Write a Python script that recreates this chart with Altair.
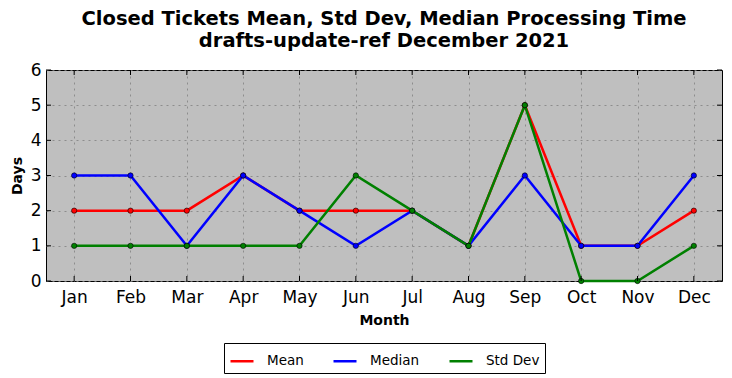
import altair as alt
import pandas as pd

months = ["Jan", "Feb", "Mar", "Apr", "May", "Jun", "Jul", "Aug", "Sep", "Oct", "Nov", "Dec"]
mean_vals = [2, 2, 2, 3, 2, 2, 2, 1, 5, 1, 1, 2]
median_vals = [3, 3, 1, 3, 2, 1, 2, 1, 3, 1, 1, 3]
std_vals = [1, 1, 1, 1, 1, 3, 2, 1, 5, 0, 0, 1]
series_names = ["Mean", "Median", "Std Dev"]
series_colors = ["#ff0000", "#0000ff", "#008000"]
y_ticks = [0, 1, 2, 3, 4, 5, 6]

rows = []
for name, vals in zip(series_names, [mean_vals, median_vals, std_vals]):
    for m, v in zip(months, vals):
        rows.append({"Month": m, "Days": v, "Series": name})
df = pd.DataFrame(rows)
months_df = pd.DataFrame({"Month": months})
yt_df = pd.DataFrame({"Days": y_ticks})

FONT = "DejaVu Sans"
W, H = 676, 211

xaxis = alt.Axis(title="Month", labelAngle=0, tickSize=0, labelPadding=8,
                 titleFontWeight="bold", titleFontSize=14, titlePadding=8,
                 labelFontSize=17, grid=True)
yaxis = alt.Axis(title="Days", values=y_ticks, tickCount=7, tickSize=0, labelPadding=5,
                 titleFontWeight="bold", titleFontSize=14, titlePadding=6,
                 labelFontSize=17, grid=True)
xenc = alt.X("Month:N", sort=months, scale=alt.Scale(type="point", padding=0.5), axis=xaxis)
yenc = alt.Y("Days:Q", scale=alt.Scale(domain=[0, 6], nice=False), axis=yaxis)
color = alt.Color("Series:N", scale=alt.Scale(domain=series_names, range=series_colors),
                  legend=alt.Legend(title=None, orient="none", direction="horizontal",
                                    legendX=178, legendY=273, symbolType="stroke",
                                    symbolSize=529, symbolStrokeWidth=2.5,
                                    labelFontSize=13.5, labelOffset=12, columnPadding=24,
                                    strokeColor="black", fillColor="white", padding=5,
                                    cornerRadius=0))

lines = alt.Chart(df).mark_line(strokeWidth=2.5).encode(x=xenc, y=yenc, color=color, detail="Series:N")
points = alt.Chart(df).mark_point(filled=True, size=28, stroke="black", strokeWidth=0.6, opacity=1).encode(
    x=xenc, y=yenc,
    fill=alt.Fill("Series:N", scale=alt.Scale(domain=series_names, range=series_colors), legend=None))

tk = 5
xt_bottom = alt.Chart(months_df).mark_rule(color="black", strokeWidth=1).encode(
    x=xenc, y=alt.value(H - tk), y2=alt.value(H))
xt_top = alt.Chart(months_df).mark_rule(color="black", strokeWidth=1).encode(
    x=xenc, y=alt.value(0), y2=alt.value(tk))
yt_left = alt.Chart(yt_df).mark_rule(color="black", strokeWidth=1).encode(
    y=yenc, x=alt.value(0), x2=alt.value(tk))
yt_right = alt.Chart(yt_df).mark_rule(color="black", strokeWidth=1).encode(
    y=yenc, x=alt.value(W - tk), x2=alt.value(W))

chart = alt.layer(lines, points, xt_bottom, xt_top, yt_left, yt_right).properties(
    width=W, height=H,
    title=alt.TitleParams(
        ["Closed Tickets Mean, Std Dev, Median Processing Time", "drafts-update-ref December 2021"],
        fontSize=19.5, fontWeight="bold", font=FONT, anchor="middle", offset=10, lineHeight=22,
        color="black"),
    autosize=alt.AutoSizeParams(type="none"),
    padding={"left": 38, "top": 62, "right": 2, "bottom": 96},
).configure_view(
    fill="#bfbfbf", stroke="black", strokeWidth=1
).configure_axis(
    labelFont=FONT, titleFont=FONT, labelColor="black", titleColor="black",
    gridColor="#808080", gridDash=[2, 4], gridWidth=0.8, gridOpacity=1,
    domain=False
).configure_legend(
    labelFont=FONT, labelColor="black"
)

chart.save("out.html", embed_options={"renderer": "svg", "actions": False})
